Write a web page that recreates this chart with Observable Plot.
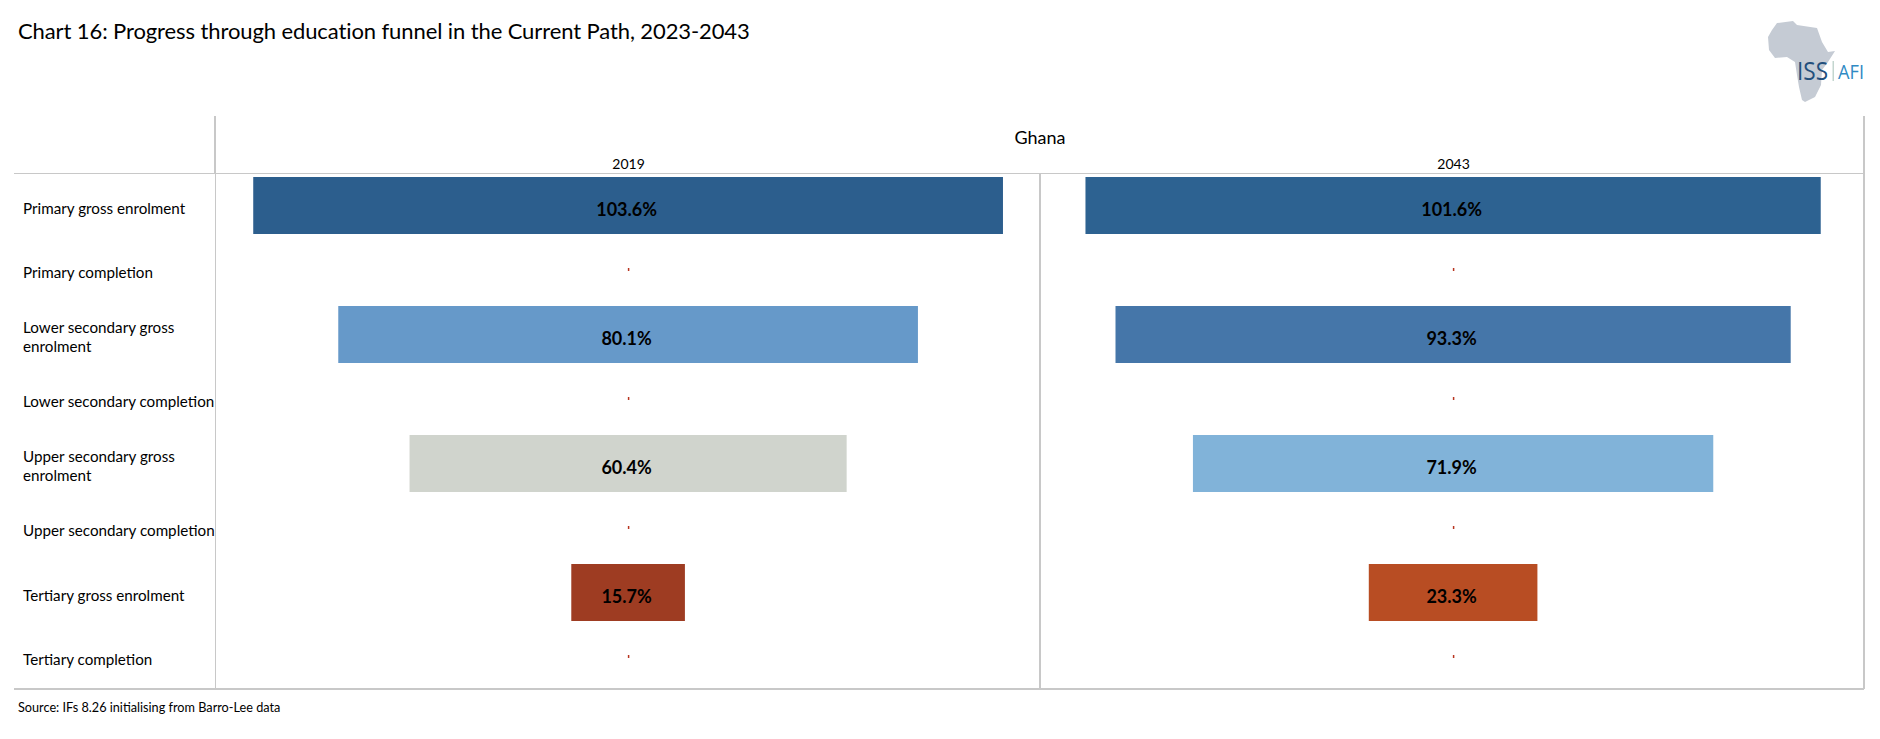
<!DOCTYPE html>
<html><head><meta charset="utf-8">
<script src="https://cdn.jsdelivr.net/npm/d3@7"></script>
<script src="https://cdn.jsdelivr.net/npm/@observablehq/plot@0.6"></script>
<style>
html,body{margin:0;padding:0;background:#fff;}
body{width:1880px;height:739px;position:relative;overflow:hidden;font-family:Lato,"Open Sans",sans-serif;color:#000;}
#title{position:absolute;left:18px;top:18px;font-size:22px;line-height:26px;white-space:nowrap;letter-spacing:-0.1px;}
#ghana{position:absolute;left:940px;width:200px;text-align:center;top:125px;font-size:18px;line-height:24px;}
#source{position:absolute;left:18px;top:699px;font-size:12.7px;line-height:16px;white-space:nowrap;}
#chart{position:absolute;left:0;top:116px;}
#chart svg{display:block;overflow:visible;}
.ln{position:absolute;background:#c8c8c8;}
#logo{position:absolute;left:1760px;top:10px;}
</style></head>
<body>
<div id="title">Chart 16: Progress through education funnel in the Current Path, 2023-2043</div>
<svg id="logo" width="110" height="100" viewBox="0 0 110 100">
  <path fill="#c5cbd4" d="M 17 13 L 33 11 L 37 15 L 57 18 L 62 32 L 68 42 L 75 41 L 68 52 L 62 60 L 61 75 L 55 87 L 45 92 L 42 90 L 39 77 L 37 65 L 35 52 L 27 47 L 15 48 L 9 40 L 8 27 L 12 20 Z"/>
  <text x="37" y="70" font-family="'Open Sans',sans-serif" font-size="25" fill="#234f7c" textLength="31" lengthAdjust="spacingAndGlyphs">ISS</text>
  <rect x="72.5" y="51" width="1.5" height="20" fill="#c3d6cf"/>
  <text x="78" y="69" font-family="'Open Sans',sans-serif" font-size="20" fill="#2f8ac4" textLength="26" lengthAdjust="spacingAndGlyphs">AFI</text>
</svg>
<div class="ln" style="left:214px;top:116px;width:2px;height:57px"></div>
<div class="ln" style="left:215px;top:173px;width:1px;height:516px"></div>
<div class="ln" style="left:1039px;top:173px;width:2px;height:516px"></div>
<div class="ln" style="left:1863px;top:116px;width:2px;height:573px"></div>
<div class="ln" style="left:14px;top:172.5px;width:1850px;height:1.5px"></div>
<div class="ln" style="left:14px;top:688px;width:1850px;height:1.5px"></div>
<div id="ghana">Ghana</div>
<div id="chart"></div>
<div id="source">Source: IFs 8.26 initialising from Barro-Lee data</div>
<script>
const stages = ["Primary gross enrolment","Primary completion","Lower secondary gross enrolment","Lower secondary completion","Upper secondary gross enrolment","Upper secondary completion","Tertiary gross enrolment","Tertiary completion"];
const stageLabels = ["Primary gross enrolment","Primary completion","Lower secondary gross\nenrolment","Lower secondary completion","Upper secondary gross\nenrolment","Upper secondary completion","Tertiary gross enrolment","Tertiary completion"];
const years = ["2019","2043"];
const enrolmentStages = ["Primary gross enrolment","Lower secondary gross enrolment","Upper secondary gross enrolment","Tertiary gross enrolment"];
const completionStages = ["Primary completion","Lower secondary completion","Upper secondary completion","Tertiary completion"];
const values2019 = [103.6,80.1,60.4,15.7];
const values2043 = [101.6,93.3,71.9,23.3];
const valueDomain = [103.6,101.6,93.3,80.1,71.9,60.4,23.3,15.7];
const valueColors = ["#2c5e8d","#2d6291","#4576a9","#6699c9","#81b3d9","#d0d4cd","#b84d23","#9e3c22"];

const bars = [
  ...enrolmentStages.map((stage,i)=>({stage,year:"2019",value:values2019[i]})),
  ...enrolmentStages.map((stage,i)=>({stage,year:"2043",value:values2043[i]}))
];
const blanks = years.flatMap(year=>completionStages.map(stage=>({stage,year,value:0})));

const plot = Plot.plot({
  width:1880, height:574,
  marginLeft:215.6, marginRight:14.4, marginTop:57, marginBottom:1,
  style:{fontFamily:"Lato,'Open Sans',sans-serif",background:"transparent",color:"#000"},
  x:{domain:[-57,57],axis:null},
  y:{domain:stages,padding:0,round:false,axis:null},
  fx:{domain:years,padding:0,round:false,label:null},
  color:{type:"ordinal",domain:valueDomain,range:valueColors},
  marks:[
    Plot.barX(bars,{x1:d=>-d.value/2,x2:d=>d.value/2,y:"stage",fx:"year",fill:"value",insetTop:4,insetBottom:3.5}),
    Plot.text(bars,{x:0,y:"stage",fx:"year",text:d=>d.value.toFixed(1)+"%",fontSize:18,fontWeight:700,fill:"#000",dy:4,dx:-2}),
    Plot.tickX(blanks,{x:0,y:"stage",fx:"year",stroke:"#b8341f",strokeWidth:1.5,insetTop:30.5,insetBottom:31}),
    Plot.axisFx({anchor:"top",tickSize:0,tickPadding:5,fontSize:14,label:null}),
    Plot.axisY({domain:stages,anchor:"left",tickSize:0,textAnchor:"start",fontSize:15.2,dx:-184,dy:2,lineHeight:1.2,label:null,
      tickFormat:d=>stageLabels[stages.indexOf(d)]})
  ]
});
document.getElementById("chart").appendChild(plot);
</script>
</body></html>
